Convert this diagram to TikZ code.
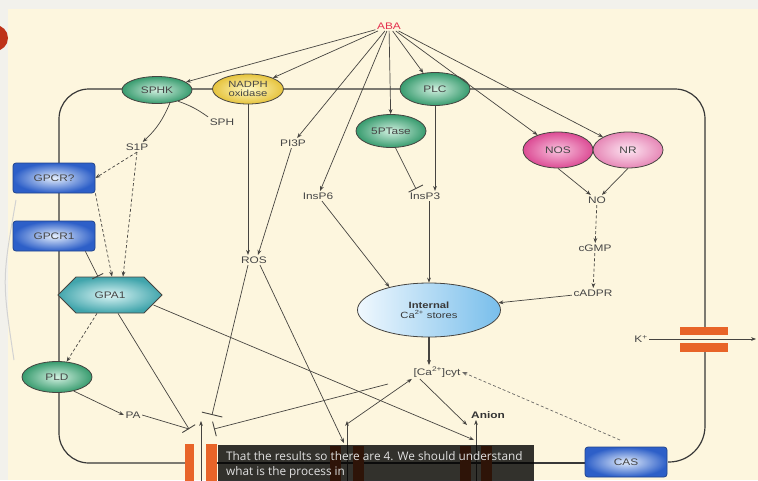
\documentclass[tikz,border=0pt]{standalone}
\usepackage{fontspec}
\setmainfont{Liberation Sans}[FakeStretch=1.25]
\newfontfamily\capfont{Open Sans}
\usetikzlibrary{arrows.meta,shapes.geometric,shapes.symbols,calc}
\definecolor{cream}{RGB}{253,246,222}
\definecolor{topc}{RGB}{242,241,236}
\definecolor{lnc}{RGB}{70,68,64}
\definecolor{txt}{RGB}{70,70,70}
\definecolor{gin}{RGB}{210,240,224}
\definecolor{gout}{RGB}{55,155,110}
\definecolor{yin}{RGB}{255,250,200}
\definecolor{yout}{RGB}{230,195,60}
\definecolor{pin}{RGB}{248,195,222}
\definecolor{pout}{RGB}{220,75,148}
\definecolor{rin}{RGB}{253,230,242}
\definecolor{rout}{RGB}{230,135,182}
\definecolor{bin}{RGB}{228,238,252}
\definecolor{bout}{RGB}{45,95,200}
\definecolor{tin}{RGB}{220,245,245}
\definecolor{tout}{RGB}{65,165,172}
\definecolor{sin}{RGB}{240,248,254}
\definecolor{sout}{RGB}{120,190,235}
\definecolor{orng}{RGB}{232,100,40}
\definecolor{abar}{RGB}{228,50,80}
\definecolor{redc}{RGB}{190,50,25}
\begin{document}
\begin{tikzpicture}[x=1pt,y=-1pt,
  lab/.style={text=txt, font=\fontsize{9.5}{10}\selectfont, inner sep=1.5pt},
  ell/.style={ellipse, draw=lnc, line width=0.8pt, inner sep=0pt, text=txt, font=\fontsize{9.5}{10}\selectfont},
  gell/.style={ell, inner color=gin, outer color=gout, minimum width=70, minimum height=30},
  yell/.style={ell, inner color=yin, outer color=yout},
  nosell/.style={ell, inner color=pin, outer color=pout, minimum width=70, minimum height=36},
  nrell/.style={ell, inner color=rin, outer color=rout, minimum width=70, minimum height=36},
  bbox/.style={rectangle, rounded corners=3, draw=bout!70!black, line width=0.8pt, inner color=bin, outer color=bout, minimum width=82, minimum height=30, text=txt, font=\fontsize{9.5}{10}\selectfont},
  hexa/.style={signal, signal to=east and west, signal pointer angle=90, draw=lnc, line width=0.8pt, inner color=tin, outer color=tout, minimum width=104, minimum height=36, inner sep=0pt, text=txt, font=\fontsize{9.5}{10}\selectfont},
  storeell/.style={ellipse, draw=lnc, line width=0.8pt, left color=sin, right color=sout, minimum width=143, minimum height=54, inner sep=0pt, align=center, text=txt!80!black, font=\fontsize{9}{10}\selectfont},
  arr/.style={draw=lnc, line width=0.7pt, -{Stealth[length=5pt,width=3.8pt]}},
  dsh/.style={arr, dash pattern=on 3pt off 2.2pt},
  inh/.style={draw=lnc, line width=0.7pt, -{Bar[width=15pt,line width=0.9pt]}},
  mem/.style={draw=black!78, line width=1.2pt}
]
\useasboundingbox (0,0) rectangle (758,480);
% background
\fill[cream] (0,0) rectangle (758,480);
\fill[topc] (0,0) rectangle (758,9);
\fill[topc] (0,0) rectangle (8,480);
\fill[redc] (-5,38) circle (13);
\draw[gray!35, line width=1pt] (16,200) .. controls (2,280) .. (14,360);

% membrane
\draw[mem, rounded corners=30] (185,463) -- (59,463) -- (59,89) -- (705,89) -- (705,327);
\draw[mem, rounded corners=36] (705,352) -- (705,462) -- (668,462);
\draw[mem] (217,463) -- (585,463);

% nodes
\node[lab, text=abar] (aba) at (389,26) {ABA};
\node[gell, minimum height=27] (sphk) at (157,90) {SPHK};
\node[yell, minimum width=71, minimum height=30, align=center, font=\fontsize{9}{9}\selectfont] (nadph) at (248,89) {NADPH\\oxidase};
\node[gell, minimum height=33] (plc) at (435,89) {PLC};
\node[gell, minimum height=33] (pt) at (391,131) {5PTase};
\node[nosell] (nos) at (558,150) {NOS};
\node[nrell] (nr) at (628,150) {NR};
\node[lab] (s1p) at (137,147) {S1P};
\node[lab] (sph) at (222,122) {SPH};
\node[lab] (pi3p) at (293,143) {PI3P};
\node[lab] (insp6) at (318,196) {InsP6};
\node[lab] (insp3) at (425,196) {InsP3};
\node[lab] (no) at (597,200) {NO};
\node[lab] (cgmp) at (595,248) {cGMP};
\node[lab] (cadpr) at (593,293) {cADPR};
\node[lab] (ros) at (254,260) {ROS};
\node[storeell] (store) at (429,310) {\textbf{Internal}\\Ca\textsuperscript{2+} stores};
\node[lab] (cacyt) at (437,372) {[Ca\textsuperscript{2+}]cyt};
\node[lab] (pa) at (133,415) {PA};
\node[lab, text=black!80, font=\bfseries\fontsize{9.5}{10}\selectfont] (anion) at (488,415) {Anion};
\node[lab] (kplus) at (641,339) {K\textsuperscript{+}};
\node[bbox] (gq) at (54,178) {GPCR?};
\node[bbox] (g1) at (54,236) {GPCR1};
\node[hexa] (gpa) at (110,295) {GPA1};
\node[gell, minimum height=31] (pld) at (57,377) {PLD};
\node[bbox] (cas) at (626,462) {CAS};

% named points
\coordinate (barL) at (189,429);
\coordinate (barR) at (214,429);
\coordinate (barT) at (212,415);
\coordinate (cAb) at (201,481); \coordinate (cAt) at (201,421);
\coordinate (cBb) at (347,481); \coordinate (cBt) at (347,421);
\coordinate (cCb) at (476,481); \coordinate (cCt) at (476,420);
\coordinate (cBin) at (344,443);
\coordinate (cCin) at (474,440);
\coordinate (anIn) at (467,425);
\coordinate (caOut) at (388,384);
\coordinate (kend) at (756,339);
\coordinate (casT) at (620,440);

% ABA arrows
\draw[arr] (aba) -- (sphk);
\draw[arr] (aba) -- (nadph);
\draw[arr] (aba) -- (pi3p);
\draw[arr] (aba) -- (insp6);
\draw[arr] (aba) -- (pt);
\draw[arr] (aba) -- (plc);
\draw[arr] (aba) -- (nos);
\draw[arr] (aba) -- (nr);

% upper pathways
\draw[arr] (sphk.-45) to[bend left=12] (s1p);
\draw[draw=lnc, line width=0.7pt] (sphk.-28) to[bend left=8] (sph.north west);
\draw[arr] (nadph.south) -- (nadph.south |- ros.north);
\draw[arr] (pi3p) -- ($(ros.north)+(4,0)$);
\draw[arr] (insp6) -- (store.150);
\draw[arr] (plc.south) -- (plc.south |- insp3.north);
\draw[inh, -{Bar[width=16pt,line width=0.9pt]}] (pt.-75) -- ($(insp3.north)+(-9,-2)$);
\draw[arr] (insp3.south -| store.north) -- (store.north);
\draw[arr] (nos.south) -- (no);
\draw[arr] (nr.south) -- (no);
\draw[dsh] (no) -- (cgmp);
\draw[dsh] (cgmp) -- (cadpr);
\draw[arr] (cadpr) -- (store);
\draw[arr, line width=1.1pt] (store.south) -- (store.south |- cacyt.north);

% left pathways
\draw[dsh] (s1p.south) -- (gq.east);
\draw[dsh] (s1p.south) -- ($(gpa.north)+(13,0)$);
\draw[dsh] (gq.south east) -- ($(gpa.north)+(2,0)$);
\draw[inh, -{Bar[width=12pt,line width=0.9pt]}] ($(g1.south east)+(-10,0)$) -- ($(gpa.north)+(-12,0)$);
\draw[dsh] ($(gpa.south)+(-13,0)$) -- (pld);
\draw[arr] (pld.-40) -- (pa.west);

% channel regulation
\draw[inh] ($(gpa.south)+(8,0)$) -- (barL);
\draw[draw=lnc, line width=0.7pt] (pa.east) -- (barL);
\draw[inh, -{Bar[width=21pt,line width=0.9pt]}] ($(ros.south)+(-6,0)$) -- (barT);
\draw[arr] ($(ros.south)+(6,0)$) -- (cBin);
\draw[arr] ($(gpa.east)+(-9,10)$) -- (cCin);
\draw[inh] (caOut) -- (barR);
\draw[arr] ($(cacyt.south west)+(8,0)$) -- (anIn);
\draw[arr] ($(cBt)+(0,3)$) -- (cacyt.south west);
\draw[dsh, draw=lnc!80] (casT) -- (cacyt.east);

% channels
\fill[orng] (185,444) rectangle (194,481);
\fill[orng] (206,444) rectangle (217,481);
\fill[orng] (330,446) rectangle (341,481);
\fill[orng] (353,446) rectangle (364,481);
\fill[orng] (460,446) rectangle (471,481);
\fill[orng] (481,446) rectangle (492,481);
\draw[arr] (cAb) -- (cAt);
\draw[arr] (cBb) -- (cBt);
\draw[arr] (cCb) -- (cCt);

% K+ channel
\fill[orng] (680,327) rectangle (728,335);
\fill[orng] (680,343) rectangle (728,352);
\draw[arr] (kplus) -- (kend);

% caption overlay
\fill[black, opacity=0.8] (218,445) rectangle (534,481);
\node[anchor=north west, text=white!88!black, font=\capfont\fontsize{11.8}{15}\selectfont, align=left, inner sep=0pt] (cap) at (226,451) {That the results so there are 4. We should understand\\what is the process in};
\end{tikzpicture}
\end{document}
